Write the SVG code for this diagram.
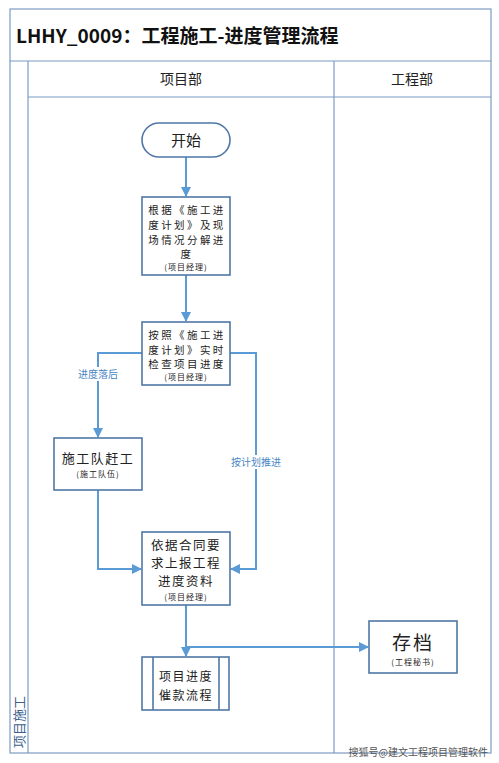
<svg xmlns="http://www.w3.org/2000/svg" width="499" height="763" viewBox="0 0 499 763">
<defs>
<style>
.frame{fill:none;stroke:#7d9cc4;stroke-width:1.2}
.box{fill:#fff;stroke:#4f77a6;stroke-width:1.6}
.conn{fill:none;stroke:#5b9bd5;stroke-width:2}
.t{font-family:"Noto Sans CJK SC","Noto Sans",sans-serif;fill:#222;text-anchor:middle}
.n{font-size:10.5px;letter-spacing:2.4px}
.s{font-size:8px;letter-spacing:1px}
.lbl{font-family:"Noto Sans CJK SC",sans-serif;font-size:10px;fill:#4a86c5;text-anchor:middle}
</style>
<marker id="ah" viewBox="0 0 10 10" refX="9" refY="5" markerWidth="5" markerHeight="5" orient="auto" markerUnits="strokeWidth">
<path d="M0,0 L10,5 L0,10 z" fill="#5b9bd5"/>
</marker>
</defs>
<rect width="499" height="763" fill="#fff"/>
<g id="frame">
<rect class="frame" x="10" y="9" width="481" height="744"/>
<line class="frame" x1="10" y1="61" x2="491" y2="61"/>
<line class="frame" x1="28" y1="97" x2="491" y2="97"/>
<line class="frame" x1="28" y1="61" x2="28" y2="753"/>
<line class="frame" x1="334" y1="61" x2="334" y2="753"/>
<text x="16" y="43" font-family="'Noto Sans CJK SC',sans-serif" font-size="19" font-weight="bold" fill="#111">LHHY_0009：工程施工-进度管理流程</text>
<text class="t" x="181" y="84" font-size="14">项目部</text>
<text class="t" x="412" y="84" font-size="14">工程部</text>
<text class="t" x="0" y="0" font-size="13" transform="translate(24,722) rotate(-90)" style="fill:#3d5f8c">项目施工</text>
</g>
<g id="connectors">
<line class="conn" x1="186" y1="157" x2="186" y2="196" marker-end="url(#ah)"/>
<line class="conn" x1="186" y1="275" x2="186" y2="321" marker-end="url(#ah)"/>
<polyline class="conn" points="142,353 98,353 98,437" marker-end="url(#ah)"/>
<polyline class="conn" points="230,353 256,353 256,569 231,569" marker-end="url(#ah)"/>
<polyline class="conn" points="98,490 98,569 141,569" marker-end="url(#ah)"/>
<line class="conn" x1="186" y1="605" x2="186" y2="656" marker-end="url(#ah)"/>
<line class="conn" x1="186" y1="647" x2="368" y2="647" marker-end="url(#ah)"/>
<rect x="74" y="367" width="48" height="14" fill="#fff"/>
<text class="lbl" x="98" y="378">进度落后</text>
<rect x="230" y="455" width="52" height="14" fill="#fff"/>
<text class="lbl" x="256" y="466">按计划推进</text>
</g>
<g id="start">
<rect class="box" x="142" y="123" width="88" height="34" rx="17"/>
<text class="t" x="186" y="146" font-size="15">开始</text>
</g>
<g id="decompose">
<rect class="box" x="142" y="197" width="88" height="78"/>
<text class="t n" x="187" y="214">根据《施工进</text>
<text class="t n" x="187" y="229">度计划》及现</text>
<text class="t n" x="187" y="244">场情况分解进</text>
<text class="t n" x="187" y="258">度</text>
<text class="t s" x="186" y="270">(项目经理)</text>
</g>
<g id="check">
<rect class="box" x="142" y="322" width="88" height="63"/>
<text class="t n" x="187" y="339">按照《施工进</text>
<text class="t n" x="187" y="354">度计划》实时</text>
<text class="t n" x="187" y="368">检查项目进度</text>
<text class="t s" x="186" y="380">(项目经理)</text>
</g>
<g id="catchup">
<rect class="box" x="54" y="438" width="88" height="52"/>
<text class="t" x="98" y="463" font-size="13" letter-spacing="1.5">施工队赶工</text>
<text class="t s" x="98" y="477">(施工队伍)</text>
</g>
<g id="report">
<rect class="box" x="142" y="532" width="88" height="73"/>
<text class="t" x="186" y="550" font-size="12.5" letter-spacing="1.5">依据合同要</text>
<text class="t" x="186" y="568" font-size="12.5" letter-spacing="1.5">求上报工程</text>
<text class="t" x="186" y="586" font-size="12.5" letter-spacing="1.5">进度资料</text>
<text class="t s" x="186" y="600">(项目经理)</text>
</g>
<g id="payment">
<rect class="box" x="142" y="657" width="87" height="53"/>
<line class="box" x1="153" y1="657" x2="153" y2="710"/>
<line class="box" x1="219" y1="657" x2="219" y2="710"/>
<text class="t" x="186" y="681" font-size="12" letter-spacing="1.5">项目进度</text>
<text class="t" x="186" y="700" font-size="12" letter-spacing="1.5">催款流程</text>
</g>
<g id="archive">
<rect class="box" x="369" y="621" width="88" height="52"/>
<text class="t" x="413" y="650" font-size="19" letter-spacing="2">存档</text>
<text class="t s" x="413" y="665">(工程秘书)</text>
</g>
<text x="488" y="756" font-family="'Noto Sans CJK SC',sans-serif" font-size="10" fill="#555" text-anchor="end">搜狐号@建文工程项目管理软件</text>
</svg>
